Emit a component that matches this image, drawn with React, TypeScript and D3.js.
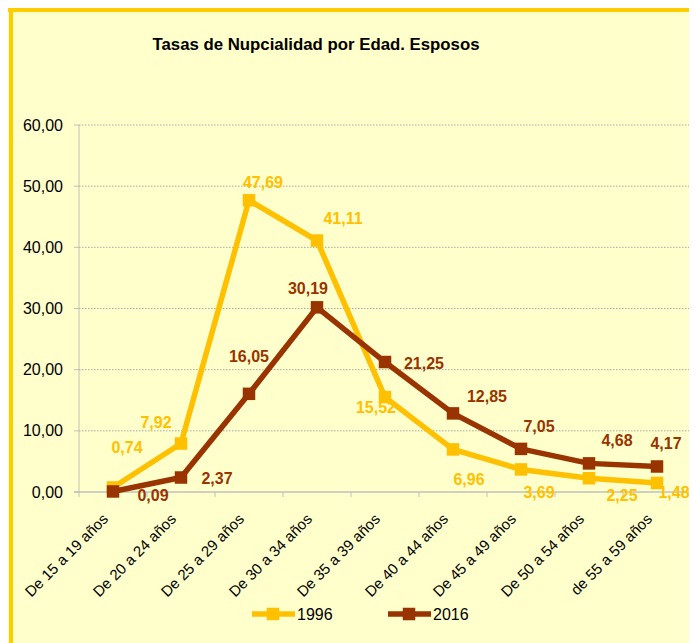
import React from "react";
import * as d3 from "d3";

const categories = [
  "De 15 a 19 años",
  "De 20 a 24 años",
  "De 25 a 29 años",
  "De 30 a 34 años",
  "De 35 a 39 años",
  "De 40 a 44 años",
  "De 45 a 49 años",
  "De 50 a 54 años",
  "de 55 a 59 años",
];
const values1996 = [0.74, 7.92, 47.69, 41.11, 15.52, 6.96, 3.69, 2.25, 1.48];
const values2016 = [0.09, 2.37, 16.05, 30.19, 21.25, 12.85, 7.05, 4.68, 4.17];
const yTicks = [0, 10, 20, 30, 40, 50, 60];
const seriesNames = ["1996", "2016"];

// label offsets (px) relative to each marker, as placed in the original
const labelOffsets1996: [number, number][] = [
  [14, -40], [-25, -21], [14, -18], [26, -22], [-9, 10], [16, 30], [18, 23], [33, 17], [17, 10],
];
const labelOffsets2016: [number, number][] = [
  [40, 4], [36, 1], [0, -37], [-9, -19], [39, 1], [34, -17], [18, -22], [28, -23], [9, -23],
];

const W = 689;
const H = 635;
const BG = "#FFFFCC";
const BORDER = "#FFCC00";
const C1996 = "#FFC000";
const C2016 = "#993300";
const FONT = "'Liberation Sans', Arial, sans-serif";

export default function App() {
  const x = d3.scaleBand<string>().domain(categories).range([71, 683]).padding(0);
  const y = d3.scaleLinear().domain([0, 60]).range([484, 117]);
  const cx = (c: string) => (x(c) as number) + x.bandwidth() / 2;
  const fmt = (v: number) => v.toFixed(2).replace(".", ",");

  const line = d3
    .line<number>()
    .x((_, i) => cx(categories[i]))
    .y((v) => y(v));

  const series = [
    { name: seriesNames[0], values: values1996, color: C1996, offsets: labelOffsets1996 },
    { name: seriesNames[1], values: values2016, color: C2016, offsets: labelOffsets2016 },
  ];

  const ms = 12.5;
  const boundaries = d3.range(categories.length + 1).map((i) => 71 + i * x.bandwidth());
  const legendY = 606;

  return (
    <svg width={W} height={H} style={{ display: "block" }} fontFamily={FONT}>
      <rect x={0} y={0} width={W} height={H} fill={BG} />
      <rect x={0} y={0} width={W} height={4} fill={BORDER} />
      <rect x={1} y={0} width={4} height={H} fill={BORDER} />

      <text x={308} y={42} textAnchor="middle" fontSize={16.8} fontWeight="bold" fill="#000">
        Tasas de Nupcialidad por Edad. Esposos
      </text>

      {/* gridlines */}
      {yTicks.filter((t) => t > 0).map((t) => (
        <line key={t} x1={71} x2={683} y1={y(t)} y2={y(t)} stroke="#A6A6A6" strokeWidth={1} strokeDasharray="1.5,1.5" />
      ))}
      {/* y axis */}
      <line x1={71} x2={71} y1={y(60)} y2={y(0)} stroke="#BFBFBF" strokeWidth={1} />
      {yTicks.map((t) => (
        <g key={t}>
          <line x1={66} x2={71} y1={y(t)} y2={y(t)} stroke="#BFBFBF" />
          <text x={55} y={y(t)} textAnchor="end" dominantBaseline="central" fontSize={16} fill="#000">
            {fmt(t)}
          </text>
        </g>
      ))}
      {/* x axis */}
      <line x1={66} x2={683} y1={y(0)} y2={y(0)} stroke="#BFBFBF" strokeWidth={1.5} />
      {boundaries.map((b, i) => (
        <line key={i} x1={b} x2={b} y1={y(0)} y2={y(0) + 5} stroke="#BFBFBF" />
      ))}
      {categories.map((c) => (
        <text
          key={c}
          transform={`translate(${cx(c) - 4},${y(0) + 28}) rotate(-45)`}
          textAnchor="end"
          fontSize={15}
          fill="#000"
        >
          {c}
        </text>
      ))}

      {/* series */}
      {series.map((s) => (
        <g key={s.name}>
          <path d={line(s.values) || ""} fill="none" stroke={s.color} strokeWidth={5.5} strokeLinejoin="round" />
          {s.values.map((v, i) => (
            <rect
              key={i}
              x={cx(categories[i]) - ms / 2}
              y={y(v) - ms / 2}
              width={ms}
              height={ms}
              fill={s.color}
            />
          ))}
        </g>
      ))}
      {series.map((s) =>
        s.values.map((v, i) => (
          <text
            key={s.name + i}
            x={cx(categories[i]) + s.offsets[i][0]}
            y={y(v) + s.offsets[i][1]}
            textAnchor="middle"
            dominantBaseline="central"
            fontSize={16}
            fontWeight="bold"
            fill={s.color}
          >
            {fmt(v)}
          </text>
        ))
      )}

      {/* legend */}
      {series.map((s, i) => {
        const lx = 244 + i * 136;
        return (
          <g key={s.name}>
            <line x1={lx} x2={lx + 43} y1={legendY} y2={legendY} stroke={s.color} strokeWidth={5.5} />
            <rect x={lx + 21 - ms / 2} y={legendY - ms / 2} width={ms} height={ms} fill={s.color} />
            <text x={lx + 45} y={legendY} dominantBaseline="central" fontSize={16} fill="#000">
              {s.name}
            </text>
          </g>
        );
      })}
    </svg>
  );
}
